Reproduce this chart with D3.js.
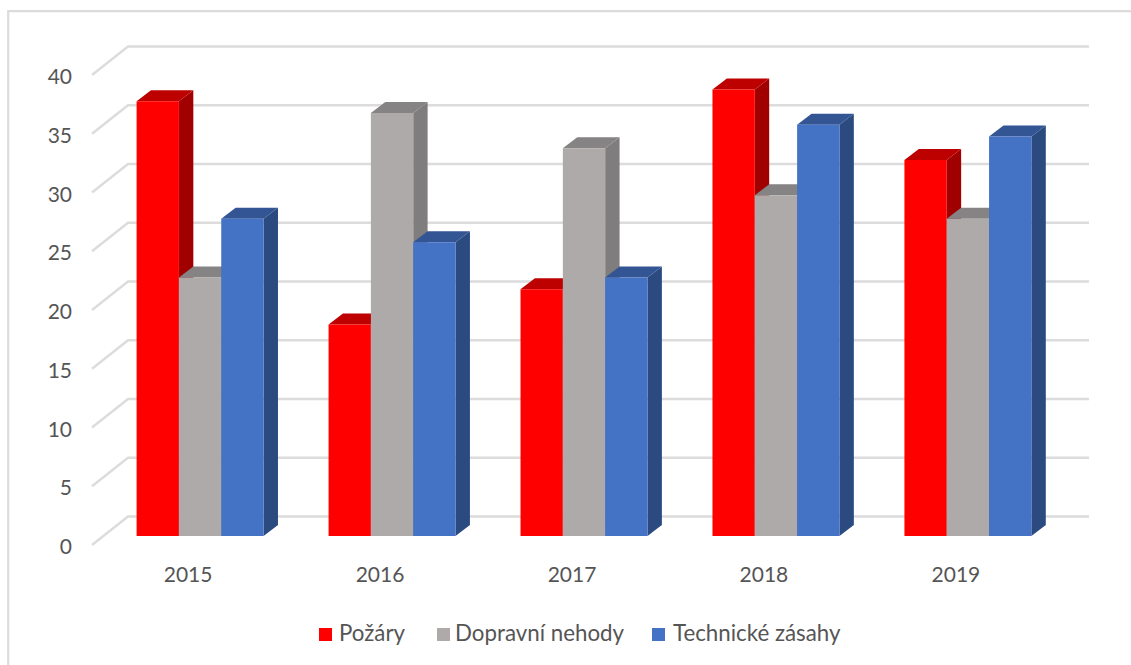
<!DOCTYPE html>
<html><head><meta charset="utf-8">
<script src="https://cdn.jsdelivr.net/npm/d3@7/dist/d3.min.js"></script>
<style>html,body{margin:0;padding:0;background:#fff}svg{display:block}text{font-family:Lato,"Noto Sans",sans-serif;fill:#555}</style>
</head><body><svg id="c" width="1131" height="665"></svg>
<script>
const years=["2015","2016","2017","2018","2019"];
const seriesNames=["Požáry","Dopravní nehody","Technické zásahy"];
const pozary=[37,18,21,38,32];
const nehody=[22,36,33,29,27];
const zasahy=[27,25,22,35,34];
const yTicks=[0,5,10,15,20,25,30,35,40];
const seriesValues=[pozary,nehody,zasahy];
const frontColors=["#ff0000","#aeaaaa","#4472c4"];
const topColors=["#bd0000","#858383","#335593"];
const sideColors=["#a00000","#7f7d7d","#2b4a80"];
const svg=d3.select("#c");
// chart frame
svg.append("path").attr("d","M8.2,665V11.2H1131").attr("fill","none").attr("stroke","#dcdcdc").attr("stroke-width",2.2);
const y=d3.scaleLinear().domain([0,40]).range([536,66]);
const x0=d3.scaleBand().domain(years).range([136.6,1031.4]).paddingInner(65/192).paddingOuter(0);
const x1=d3.scaleBand().domain(d3.range(3)).range([0,x0.bandwidth()]);
const depth={dx:14.4,dy:-11};
const wall={dx:128,x2:1089,dy:-19.5};
const floor={x:92,dy:9};
// gridlines: back wall plus left side wall
const grid=svg.append("g").attr("fill","none").attr("stroke","#dcdcdc").attr("stroke-width",2.4);
yTicks.forEach(t=>{
  grid.append("path").attr("d",`M${floor.x},${y(t)+floor.dy}L${wall.dx},${y(t)+wall.dy}H${wall.x2}`);
});
// y labels
svg.append("g").selectAll("text").data(yTicks).join("text")
  .attr("x",72).attr("y",t=>y(t)+floor.dy+0.5).attr("text-anchor","end").attr("dominant-baseline","central")
  .attr("font-size",21).text(d=>d);
// bars
const g=svg.append("g");
years.forEach((yr,i)=>{
  seriesValues.forEach((vals,s)=>{
    const l=x0(yr)+x1(s),r=l+x1.bandwidth(),t=y(vals[i]),b=y(0);
    g.append("path").attr("fill",sideColors[s]).attr("d",`M${r},${t}l${depth.dx},${depth.dy}V${b+depth.dy}L${r},${b}Z`);
    g.append("path").attr("fill",topColors[s]).attr("d",`M${l},${t}l${depth.dx},${depth.dy}H${r+depth.dx}L${r},${t}Z`);
    g.append("rect").attr("fill",frontColors[s]).attr("x",l).attr("y",t).attr("width",x1.bandwidth()).attr("height",b-t);
  });
});
// category labels
svg.append("g").selectAll("text").data(years).join("text")
  .attr("x",d=>x0(d)+x0.bandwidth()/2-12).attr("y",577).attr("text-anchor","middle")
  .attr("dominant-baseline","middle").attr("font-size",21).text(d=>d);
// legend
const legX=[319,437,652];
const legT=[339,455,673];
const leg=svg.append("g");
seriesNames.forEach((n,i)=>{
  leg.append("rect").attr("x",legX[i]).attr("y",628).attr("width",13).attr("height",13).attr("fill",frontColors[i]);
  leg.append("text").attr("x",legT[i]).attr("y",635).attr("dominant-baseline","middle").attr("font-size",22.3).text(n);
});
</script></body></html>
